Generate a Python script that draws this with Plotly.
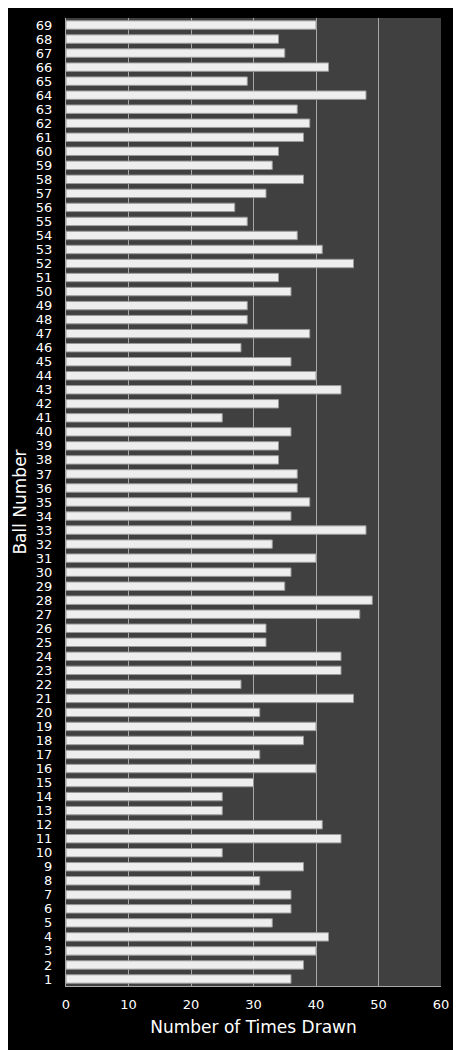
import plotly.graph_objects as go

# ball numbers and how often each one was drawn
balls = list(range(1, 70))
times_drawn = [
    36, 38, 40, 42, 33, 36, 36, 31, 38, 25,   # 1-10
    44, 41, 25, 25, 30, 40, 31, 38, 40, 31,   # 11-20
    46, 28, 44, 44, 32, 32, 47, 49, 35, 36,   # 21-30
    40, 33, 48, 36, 39, 37, 37, 34, 34, 36,   # 31-40
    25, 34, 44, 40, 36, 28, 39, 29, 29, 36,   # 41-50
    34, 46, 41, 37, 29, 27, 32, 38, 33, 34,   # 51-60
    38, 39, 37, 48, 29, 42, 35, 34, 40,       # 61-69
]
x_ticks = [0, 10, 20, 30, 40, 50, 60]

fig = go.Figure()
fig.add_trace(go.Bar(
    x=times_drawn, y=balls, orientation="h",
    marker=dict(color="#eeeeee", line=dict(color="#9a9a9a", width=1)),
))

# the page body has an 8px margin, so the figure is shrunk by that much
fig.update_layout(
    width=453, height=1042,
    paper_bgcolor="black", plot_bgcolor="#404040",
    margin=dict(l=58, r=20, t=10, b=64),
    bargap=0.4,
    showlegend=False,
    font=dict(family="DejaVu Sans", color="white", size=13),
)
fig.update_xaxes(
    range=[0, 60], tickvals=x_ticks, ticks="", showgrid=True,
    gridcolor="#a8a8a8", gridwidth=1,
    showline=True, linecolor="#a8a8a8", zeroline=False,
    ticklabelstandoff=6, automargin=False,
    title=dict(text="Number of Times Drawn", font=dict(size=17, family="DejaVu Sans"), standoff=10),
    tickfont=dict(size=13),
)
fig.update_yaxes(
    range=[0.5, 69.5], tickmode="linear", dtick=1, tick0=1,
    showgrid=False, showline=True, linecolor="#a8a8a8", zeroline=False,
    ticks="", ticklabelstandoff=10, automargin=False,
    title=dict(text="Ball Number", font=dict(size=17, family="DejaVu Sans"), standoff=4),
    tickfont=dict(size=13),
)

fig.write_html("out.html")
